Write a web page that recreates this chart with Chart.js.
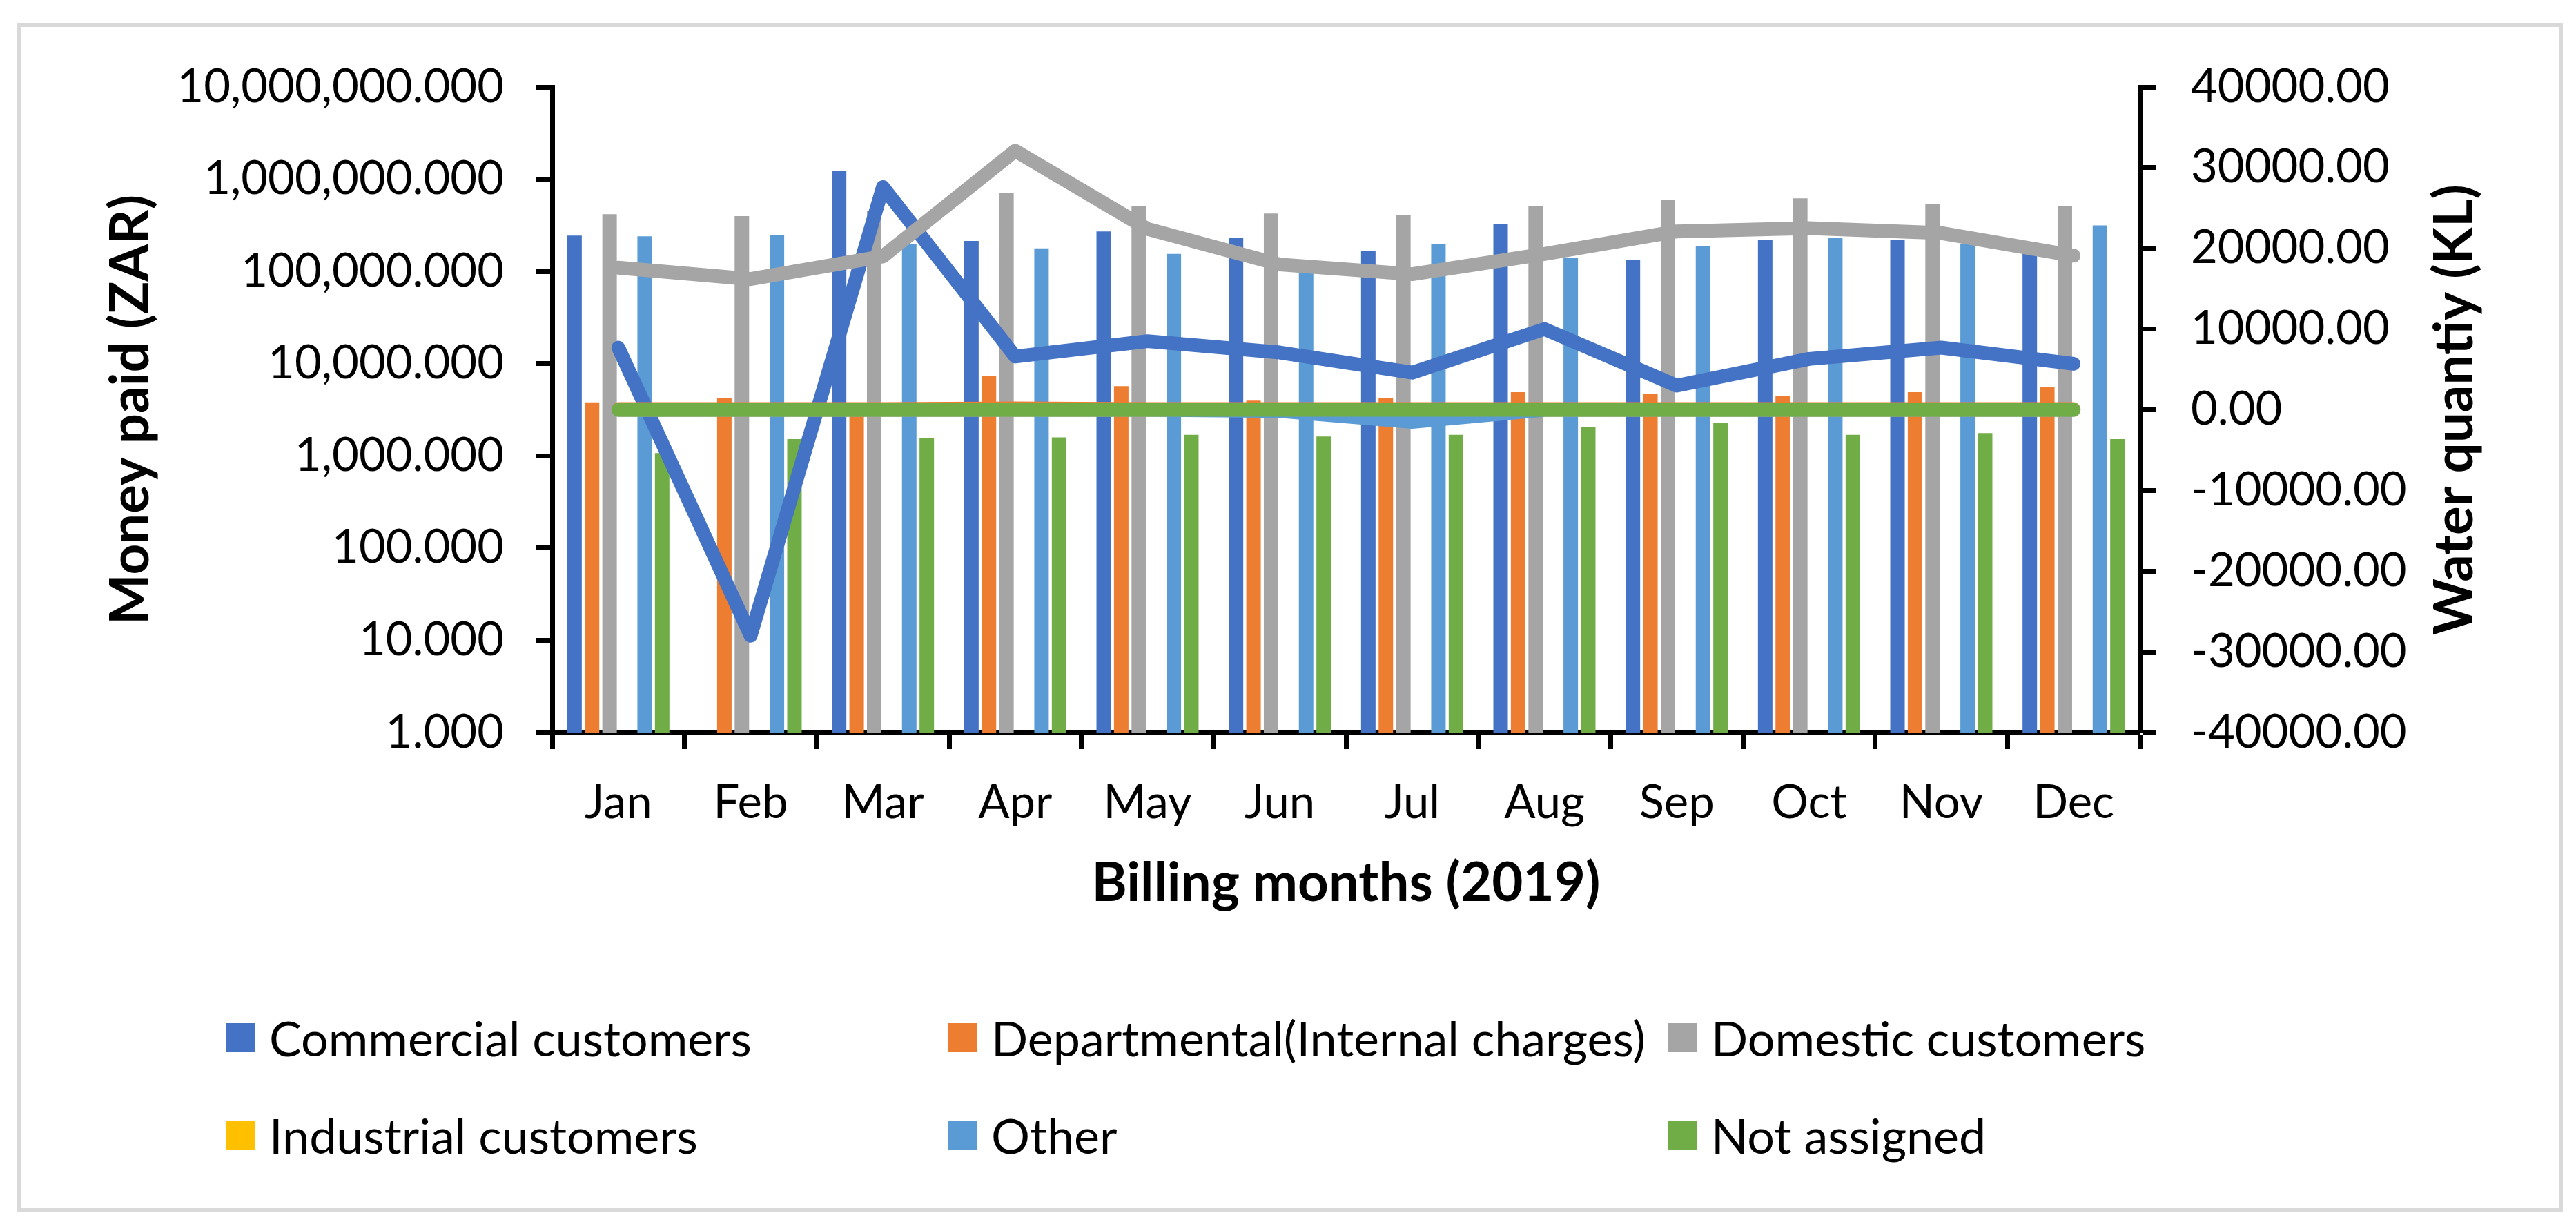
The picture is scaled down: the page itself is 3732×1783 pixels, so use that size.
<!DOCTYPE html>
<html>
<head>
<meta charset="utf-8">
<title>Money paid and water quantity by customer type (2019)</title>
<script src="https://cdn.jsdelivr.net/npm/chart.js@4.4.1/dist/chart.umd.min.js"></script>
<style>
    html, body { margin: 0; padding: 0; background: #fff; }
    #wrap { position: relative; width: 3732px; height: 1783px; }
    #frame { position: absolute; left: 25px; top: 34px; width: 3678px; height: 1711px; border: 5px solid #d9d9d9; }
    #chart { position: absolute; left: 0; top: 0; }
    .legend-item {
        position: absolute;
        display: flex;
        align-items: center;
        height: 84px;
        font-family: Lato, 'Liberation Sans', sans-serif;
        font-size: 70px;
        line-height: 84px;
        color: #000;
        white-space: nowrap;
    }
    .legend-item .swatch { width: 42px; height: 42px; margin-right: 21px; flex: none; }
</style>
</head>
<body>
<div id="wrap">
    <div id="frame"></div>
    <canvas id="chart" width="3732" height="1783" style="width:3732px;height:1783px"></canvas>
    <div id="legend"></div>
</div>
<script>
const months = ['Jan', 'Feb', 'Mar', 'Apr', 'May', 'Jun', 'Jul', 'Aug', 'Sep', 'Oct', 'Nov', 'Dec'];
const customerTypes = ['Commercial customers', 'Departmental(Internal charges)', 'Domestic customers',
    'Industrial customers', 'Other', 'Not assigned'];
const typeColors = ['#4472C4', '#ED7D31', '#A5A5A5', '#FFC000', '#5B9BD5', '#70AD47'];

// Money paid (ZAR) - bars, log axis
const commercialPaid = [245000, 0, 1240000, 214000, 271000, 229000, 167000, 330000, 134000, 219000, 218000, 210000];
const departmentalPaid = [3800, 4270, 3300, 7400, 5700, 3980, 4200, 4900, 4700, 4500, 4900, 5600];
const domesticPaid = [417000, 398000, 455000, 710000, 515000, 425000, 410000, 515000, 600000, 620000, 535000, 515000];
const industrialPaid = [0, 0, 0, 0, 0, 0, 0, 0, 0, 0, 0, 0];
const otherPaid = [240000, 250000, 200000, 178000, 155000, 100000, 196000, 139000, 190000, 229000, 200000, 316000];
const notAssignedPaid = [1070, 1520, 1550, 1590, 1690, 1620, 1690, 2040, 2290, 1690, 1770, 1520];

// Water quantity (KL) - lines, right axis
const commercialWater = [7700, -28000, 27600, 6600, 8500, 7100, 4600, 10000, 3000, 6300, 7700, 5700];
const departmentalWater = [80, 80, 80, 170, 80, 80, 80, 80, 80, 80, 80, 80];
const domesticWater = [17600, 16200, 19000, 32100, 22400, 18000, 16800, 19300, 22100, 22500, 21900, 19100];
const industrialWater = [0, 0, 0, 0, 0, 0, 0, 0, 0, 0, 0, 0];
const otherWater = [0, 0, 0, 0, 0, -150, -1500, 0, 0, 0, 0, 0];
const notAssignedWater = [0, 0, 0, 0, 0, 0, 0, 0, 0, 0, 0, 0];

const moneyTicks = [1, 10, 100, 1000, 10000, 100000, 1000000, 10000000];
const waterTicks = [-40000, -30000, -20000, -10000, 0, 10000, 20000, 30000, 40000];

const moneyPaid = [commercialPaid, departmentalPaid, domesticPaid, industrialPaid, otherPaid, notAssignedPaid];
const waterQty = [commercialWater, departmentalWater, domesticWater, industrialWater, otherWater, notAssignedWater];

const FONT = 'Lato, "Liberation Sans", sans-serif';
const axisLine = { display: true, color: '#000', width: 7 };

const datasets = [];
customerTypes.forEach((name, i) => {
    // later series sit on top, like the original (green line last)
    datasets.push({
        type: 'line',
        label: name + ' (KL)',
        data: waterQty[i],
        yAxisID: 'y2',
        borderColor: typeColors[i],
        backgroundColor: typeColors[i],
        borderWidth: 20,
        borderCapStyle: 'round',
        borderJoinStyle: 'round',
        pointRadius: 0,
        tension: 0,
        fill: false,
        order: 5 - i
    });
});
customerTypes.forEach((name, i) => {
    datasets.push({
        type: 'bar',
        label: name,
        data: moneyPaid[i],
        yAxisID: 'y',
        backgroundColor: typeColors[i],
        borderWidth: 0,
        categoryPercentage: 0.795,
        barPercentage: 0.827,
        order: 10
    });
});

// Chart.js turns right-hand titles the other way, so this one is drawn by hand (reads bottom to top)
const rightTitle = {
    id: 'rightTitle',
    afterDraw(chart) {
        const c = chart.ctx;
        const area = chart.chartArea;
        c.save();
        c.translate(3557, (area.top + area.bottom) / 2);
        c.rotate(-Math.PI / 2);
        c.font = 'bold 78px ' + FONT;
        c.fillStyle = '#000';
        c.textAlign = 'center';
        c.textBaseline = 'middle';
        c.fillText('Water quantiy (KL)', 0, 0);
        c.restore();
    }
};

const ctx = document.getElementById('chart').getContext('2d');
new Chart(ctx, {
    type: 'bar',
    data: { labels: months, datasets: datasets },
    plugins: [rightTitle],
    options: {
        responsive: false,
        devicePixelRatio: 1,
        animation: false,
        layout: { padding: { left: 40, right: 42, top: 126, bottom: 456 } },
        plugins: {
            legend: { display: false },
            tooltip: { enabled: false }
        },
        scales: {
            x: {
                offset: true,
                grid: { display: true, drawOnChartArea: false, offset: true, tickLength: 24, tickWidth: 7, tickColor: '#000' },
                border: axisLine,
                ticks: { color: '#000', font: { family: FONT, size: 67 }, padding: 38, maxRotation: 0, autoSkip: false },
                title: { display: true, text: 'Billing months (2019)', color: '#000',
                    font: { family: FONT, size: 78, weight: 'bold' }, padding: 0 },
                afterFit: function(scale) { scale.height = 266; }
            },
            y: {
                type: 'logarithmic',
                position: 'left',
                min: 1,
                max: 10000000,
                afterBuildTicks: function(scale) { scale.ticks = moneyTicks.map(v => ({ value: v })); },
                grid: { display: true, drawOnChartArea: false, tickLength: 23, tickWidth: 7, tickColor: '#000' },
                border: axisLine,
                ticks: {
                    color: '#000', font: { family: FONT, size: 67 }, padding: 47, autoSkip: false,
                    callback: v => Number(v).toLocaleString('en-US', { minimumFractionDigits: 3, maximumFractionDigits: 3 })
                },
                title: { display: true, text: 'Money paid (ZAR)', color: '#000',
                    font: { family: FONT, size: 78, weight: 'bold' }, padding: { top: 103, bottom: 0 } },
                afterFit: function(scale) { scale.width = 760; }
            },
            y2: {
                type: 'linear',
                position: 'right',
                min: -40000,
                max: 40000,
                afterBuildTicks: function(scale) { scale.ticks = waterTicks.map(v => ({ value: v })); },
                grid: { display: true, drawOnChartArea: false, tickLength: 23, tickWidth: 7, tickColor: '#000' },
                border: axisLine,
                ticks: {
                    color: '#000', font: { family: FONT, size: 67 }, padding: 51, autoSkip: false,
                    callback: v => Number(v).toFixed(2)
                },
                title: { display: false },
                afterFit: function(scale) { scale.width = 590; }
            }
        }
    }
});

// Legend: 3 columns x 2 rows, square swatches
const legendCols = [327, 1373, 2416];
const legendRows = [1503, 1644];
const legend = document.getElementById('legend');
customerTypes.forEach((name, i) => {
    const item = document.createElement('div');
    item.className = 'legend-item';
    item.style.left = legendCols[i % 3] + 'px';
    item.style.top = (legendRows[Math.floor(i / 3)] - 42) + 'px';
    const sw = document.createElement('span');
    sw.className = 'swatch';
    sw.style.background = typeColors[i];
    const txt = document.createElement('span');
    txt.textContent = name;
    item.appendChild(sw);
    item.appendChild(txt);
    legend.appendChild(item);
});
</script>
</body>
</html>
